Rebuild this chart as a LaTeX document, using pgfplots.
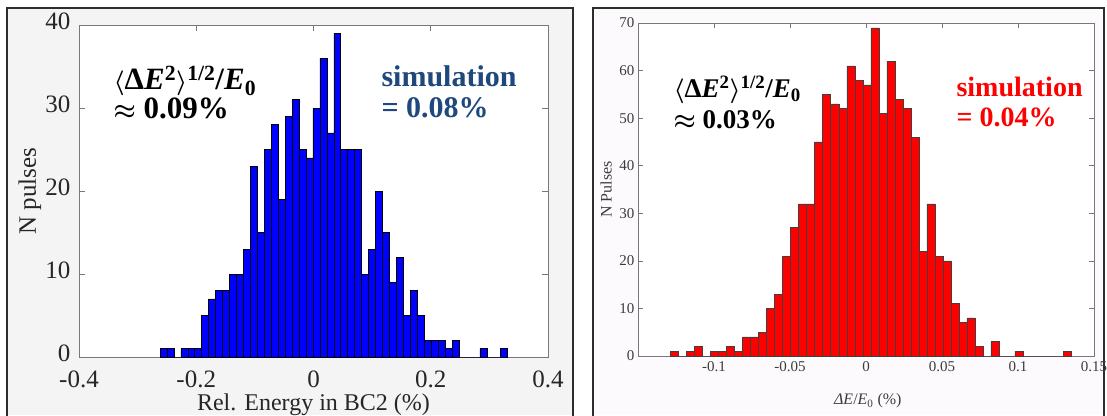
\documentclass[border=0pt]{standalone}
\usepackage{pgfplots}
\pgfplotsset{compat=1.18}
\usepackage{fontspec}
\setmainfont{Liberation Serif}

\definecolor{simblue}{RGB}{31,73,125}
\definecolor{panelgray}{RGB}{244,244,244}
\definecolor{panelwhite}{RGB}{252,250,253}
\definecolor{framedark}{RGB}{45,45,45}
\definecolor{axisgray}{RGB}{120,120,120}
\definecolor{tickgray}{RGB}{60,60,60}

\newcommand{\rmsE}{{\boldmath$\langle$}Δ\textit{E}\textsuperscript{2}{\boldmath$\rangle$}\textsuperscript{1/2}/\textit{E}\textsubscript{0}}

\begin{document}
\begin{tikzpicture}[x=1pt,y=1pt]
\path[use as bounding box] (0,0) rectangle (1107,415);
% panel frames
\fill[panelgray] (7,0) rectangle (573,407);
\draw[framedark, line width=2pt] (7,-5) -- (7,407) -- (573,407) -- (573,-5);
\fill[panelwhite] (593,0) rectangle (1104,407);
\draw[framedark, line width=2pt] (593,-5) -- (593,407) -- (1104,407) -- (1104,-5);

% measured energy spread after BC2
\begin{axis}[
  at={(79pt,58pt)}, anchor=south west, scale only axis,
  width=469pt, height=332pt,
  xmin=-0.4, xmax=0.4, ymin=0, ymax=40,
  xtick={-0.4,-0.2,0,0.2,0.4}, ytick={0,10,20,30,40},
  tick align=inside, major tick length=6pt,
  axis line style={axisgray, line width=0.8pt}, tick style={axisgray, line width=0.8pt},
  axis background/.style={fill=white},
  /pgf/number format/assume math mode=true,
  /pgf/number format/fixed,
  ticklabel style={font=\fontsize{25}{25}\selectfont, text=black!85, inner sep=0.5pt},
  xticklabel style={yshift=-13pt},
  yticklabel style={xshift=-8pt, yshift=4pt},
  xlabel={Rel. Energy in BC2 (\%)}, ylabel={N pulses},
  every axis x label/.style={at={(axis description cs:0.5,-0.143)}, anchor=center,
    inner sep=1pt, font=\fontsize{24}{24}\selectfont, text=black!85},
  every axis y label/.style={at={(axis description cs:-0.105,0.5)}, rotate=90, anchor=center,
    inner sep=1pt, font=\fontsize{25}{25}\selectfont, text=black!85},
]
\addplot[ybar interval, fill=blue, draw=black, line width=0.6pt] coordinates {
(-0.2618,1) (-0.24994,1) (-0.23808,0) (-0.22622,1) (-0.21436,1)
(-0.2025,1) (-0.19064,5) (-0.17878,7) (-0.16692,8) (-0.15506,8)
(-0.1432,10) (-0.13134,10) (-0.11948,13) (-0.10762,23) (-0.09576,15)
(-0.0839,25) (-0.07204,28) (-0.06018,19) (-0.04832,29) (-0.03646,31)
(-0.0246,25) (-0.01274,24) (-0.00088,30) (0.01098,36) (0.02284,27)
(0.0347,39) (0.04656,25) (0.05842,25) (0.07028,25) (0.08214,10)
(0.094,13) (0.10586,20) (0.11772,15) (0.12958,9) (0.14144,12)
(0.1533,5) (0.16516,8) (0.17702,5) (0.18888,2) (0.20074,2)
(0.2126,2) (0.22446,1) (0.23632,2) (0.24818,0) (0.26004,0)
(0.2719,0) (0.28376,1) (0.29562,0) (0.30748,0) (0.31934,1)
(0.3312,1)
};
\end{axis}

% simulated energy spread
\begin{axis}[
  at={(638pt,59pt)}, anchor=south west, scale only axis,
  width=456pt, height=333pt,
  xmin=-0.15, xmax=0.15, ymin=0, ymax=70,
  xtick={-0.1,-0.05,0,0.05,0.1,0.15}, ytick={0,10,...,70},
  tick align=inside, major tick length=5pt,
  axis line style={axisgray, line width=0.6pt}, tick style={axisgray, line width=0.6pt},
  axis background/.style={fill=white},
  /pgf/number format/assume math mode=true,
  /pgf/number format/fixed,
  ticklabel style={font=\fontsize{15}{15}\selectfont, text=tickgray},
  xticklabel style={yshift=-2pt},
  xlabel={\textit{ΔE}/\textit{E}\textsubscript{0} (\%)}, ylabel={N Pulses},
  every axis x label/.style={at={(axis description cs:0.504,-0.135)}, anchor=center,
    font=\fontsize{16}{16}\selectfont, text=tickgray},
  every axis y label/.style={at={(axis description cs:-0.07,0.5)}, rotate=90, anchor=center,
    font=\fontsize{16}{16}\selectfont, text=tickgray},
]
\addplot[ybar interval, fill=red, draw=black!75, line width=0.5pt] coordinates {
(-0.1286,1) (-0.12333,0) (-0.11806,1) (-0.11279,2) (-0.10752,0)
(-0.10225,1) (-0.09698,1) (-0.09171,2) (-0.08644,1) (-0.08117,4)
(-0.0759,4) (-0.07063,5) (-0.06536,10) (-0.06009,13) (-0.05482,21)
(-0.04955,27) (-0.04428,32) (-0.03901,32) (-0.03374,45) (-0.02847,55)
(-0.0232,53) (-0.01793,52) (-0.01266,61) (-0.00739,58) (-0.00212,57)
(0.00315,69) (0.00842,51) (0.01369,62) (0.01896,54) (0.02423,52)
(0.0295,46) (0.03477,22) (0.04004,32) (0.04531,21) (0.05058,20)
(0.05585,11) (0.06112,7) (0.06639,8) (0.07166,2) (0.07693,0)
(0.0822,3) (0.08747,0) (0.09274,0) (0.09801,1) (0.10328,0)
(0.10855,0) (0.11382,0) (0.11909,0) (0.12436,0) (0.12963,1)
(0.1349,1)
};
\end{axis}

% annotations
\node[anchor=base west, font=\fontsize{31}{31}\selectfont\bfseries] at (110,325) {\rmsE};
\node[anchor=base west, font=\fontsize{31}{31}\selectfont\bfseries] at (110,296) {{\boldmath$\approx$} 0.09\%};
\node[anchor=base west, font=\fontsize{30}{30}\selectfont\bfseries, text=simblue] at (378,328) {simulation};
\node[anchor=base west, font=\fontsize{30}{30}\selectfont\bfseries, text=simblue] at (378,297) {= 0.08\%};

\node[anchor=base west, font=\fontsize{27}{27}\selectfont\bfseries] at (670,317) {\rmsE};
\node[anchor=base west, font=\fontsize{27}{27}\selectfont\bfseries] at (670,286) {{\boldmath$\approx$} 0.03\%};
\node[anchor=base west, font=\fontsize{28}{28}\selectfont\bfseries, text=red] at (953,318) {simulation};
\node[anchor=base west, font=\fontsize{28}{28}\selectfont\bfseries, text=red] at (953,288) {= 0.04\%};
\end{tikzpicture}
\end{document}
